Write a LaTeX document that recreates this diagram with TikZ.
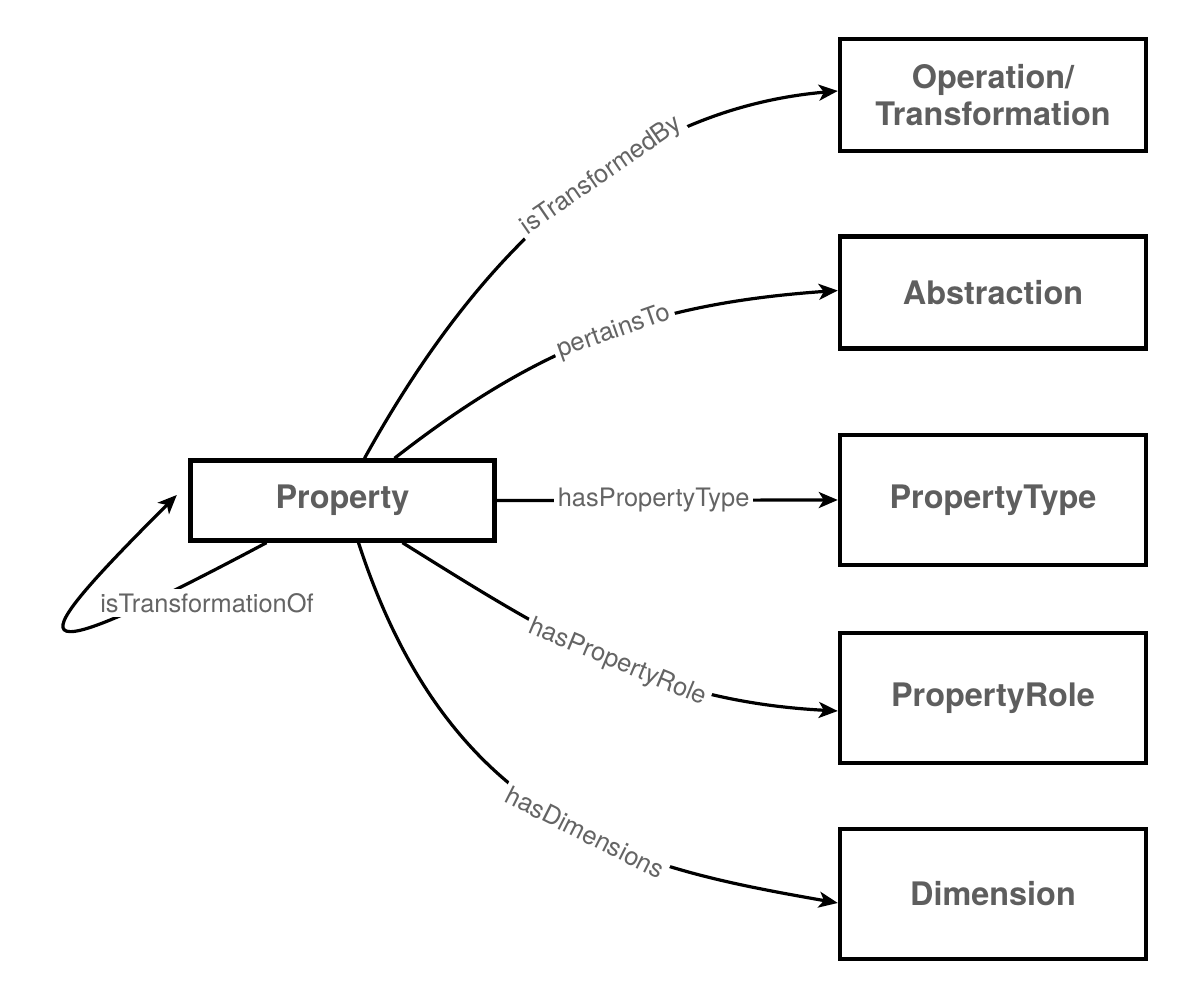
\documentclass[tikz,border=0pt]{standalone}
\usepackage{fontspec}
\setmainfont{TeX Gyre Heros}
\usetikzlibrary{arrows.meta}
\definecolor{boxgray}{RGB}{94,94,94}
\definecolor{lblgray}{RGB}{100,100,100}
\begin{document}
		\begin{tikzpicture}[x=0.5pt,y=0.5pt,
			entity/.style={draw,line width=2.2pt,minimum width=153pt,minimum height=65pt,text=boxgray,
				align=center,font=\fontsize{16.2}{18.5}\selectfont\bfseries},
			lbl/.style={fill=white,text=lblgray,inner sep=2pt,font=\fontsize{12.7}{14}\selectfont},
			link/.style={line width=1.6pt,-{Stealth[length=9.5pt,width=8pt,inset=2.5pt]}}]
			\useasboundingbox (0,0) rectangle (1190,1000);
			\node[entity,minimum width=152pt,minimum height=40pt] (prop) at (342.5,499.5) {Property};
			\node[entity,minimum height=56pt] (op) at (993,905) {Operation/\\Transformation};
			\node[entity,minimum height=56pt] (abs) at (993,707.5) {Abstraction};
			\node[entity] (ptype) at (993,500) {PropertyType};
			\node[entity] (prole) at (993,302) {PropertyRole};
			\node[entity] (dim) at (993,106) {Dimension};
			\draw[link] ([xshift=11pt]prop.north) to[out=61,in=185,looseness=0.95] node[lbl,sloped,pos=0.59]{isTransformedBy} ([yshift=2pt]op.west);
			\draw[link] ([xshift=26pt]prop.north) to[out=38,in=184] node[lbl,sloped,pos=0.53]{pertainsTo} ([yshift=1pt]abs.west);
			\draw[link] (prop.east) -- node[lbl,pos=0.46]{hasPropertyType} (ptype.west);
			\draw[link] ([xshift=30pt]prop.south) to[out=-32,in=177] node[lbl,sloped,pos=0.52]{hasPropertyRole} ([yshift=-6.5pt]prole.west);
			\draw[link] ([xshift=8pt]prop.south) to[out=-72,in=170,out looseness=1.3,in looseness=0.85] node[lbl,sloped,pos=0.55]{hasDimensions} ([yshift=-4.5pt]dim.west);
			\draw[link] ([xshift=-38pt]prop.south) .. controls +(208:150pt) and +(225:107.5pt) .. ([xshift=-5.75pt,yshift=2.75pt]prop.west);
			\node[lbl] (loop) at (207,397) {isTransformationOf};
		\end{tikzpicture}
\end{document}
